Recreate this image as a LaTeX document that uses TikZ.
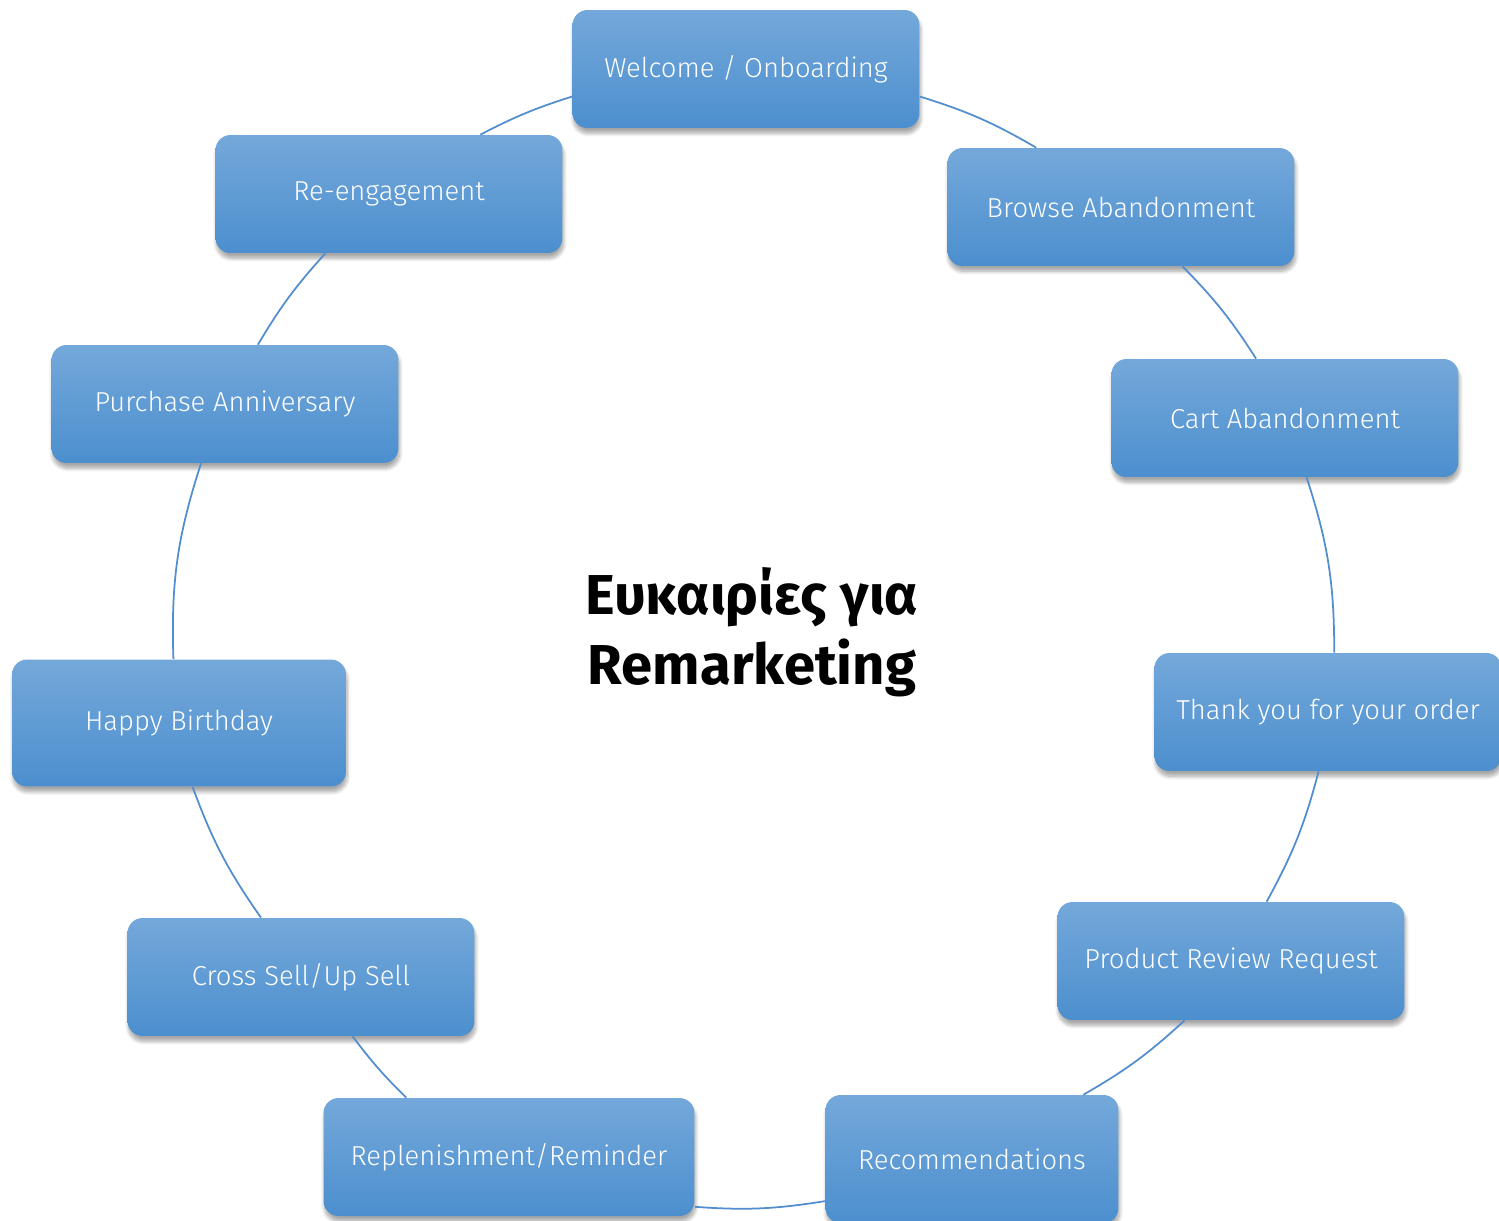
\documentclass[tikz,border=0pt]{standalone}
\usepackage{fontspec}
\setmainfont{Fira Sans}
\newfontfamily\stagefont{Fira Sans Light}
\usepackage{xcolor}
\usetikzlibrary{shadows.blur}

\definecolor{boxtop}{RGB}{116,168,218}
\definecolor{boxbot}{RGB}{76,143,206}
\definecolor{ringline}{RGB}{82,141,206}

\begin{document}
\begin{tikzpicture}[
        x=0.02cm, y=0.02cm,
        stage/.style={rounded corners=0.3cm, top color=boxtop, bottom color=boxbot, text=white,
            font=\stagefont\fontsize{15.6}{19}\selectfont, minimum width=6.94cm, minimum height=2.36cm, inner sep=0pt,
            blur shadow={shadow xshift=0.6pt, shadow yshift=-3pt, shadow blur steps=8, shadow opacity=35}},
        link/.style={draw=ringline, line width=1pt},
        title/.style={font=\fontsize{32}{40}\selectfont\bfseries, align=center}
    ]

    \useasboundingbox (0,0) rectangle (1499,-1221);

    % --- Centre ---
    \node[title] (theme) at (752,-632) {Ευκαιρίες για\\Remarketing};

    % --- Stages round the ring ---
    \node[stage] (welcome) at (746,-69) {Welcome / Onboarding};
    \node[stage] (browse) at (1121,-207) {Browse Abandonment};
    \node[stage] (cart) at (1285,-418) {Cart Abandonment};
    \node[stage] (thanks) at (1328,-712) {Thank you for your order};
    \node[stage] (review) at (1231,-961) {Product Review Request};
    \node[stage, minimum width=5.86cm, minimum height=2.56cm] (recomm) at (972,-1159) {Recommendations};
    \node[stage, minimum width=7.42cm] (replen) at (509,-1157) {Replenishment/Reminder};
    \node[stage] (cross) at (301,-977) {Cross Sell/Up Sell};
    \node[stage, minimum width=6.68cm, minimum height=2.54cm] (birthday) at (179,-723) {Happy Birthday};
    \node[stage] (anniv) at (225,-404) {Purchase Anniversary};
    \node[stage] (reengage) at (389,-194) {Re-engagement};

    % --- Ring segments (pieces of one circle) ---
    \draw[link] (welcome.-9) to[bend left=6.5] (browse.145);
    \draw[link] (browse.-44) to[bend left=6] (cart.116);
    \draw[link] (cart.-70) to[bend left=9] (thanks.84);
    \draw[link] (thanks.-99) to[bend left=7] (review.59);
    \draw[link] (review.-128) to[bend left=6.4] (recomm.30);
    \draw[link] (recomm.196) to[bend left=6.6] (replen.-15);
    \draw[link] (replen.150) to[bend left=4.2] (cross.-49);
    \draw[link] (cross.124) to[bend left=7.4] (birthday.-78.5);
    \draw[link] (birthday.95.4) to[bend left=9.9] (anniv.-112);
    \draw[link] (anniv.61.5) to[bend left=5.7] (reengage.-137);
    \draw[link] (reengage.33) to[bend left=5] (welcome.189);

\end{tikzpicture}
\end{document}
